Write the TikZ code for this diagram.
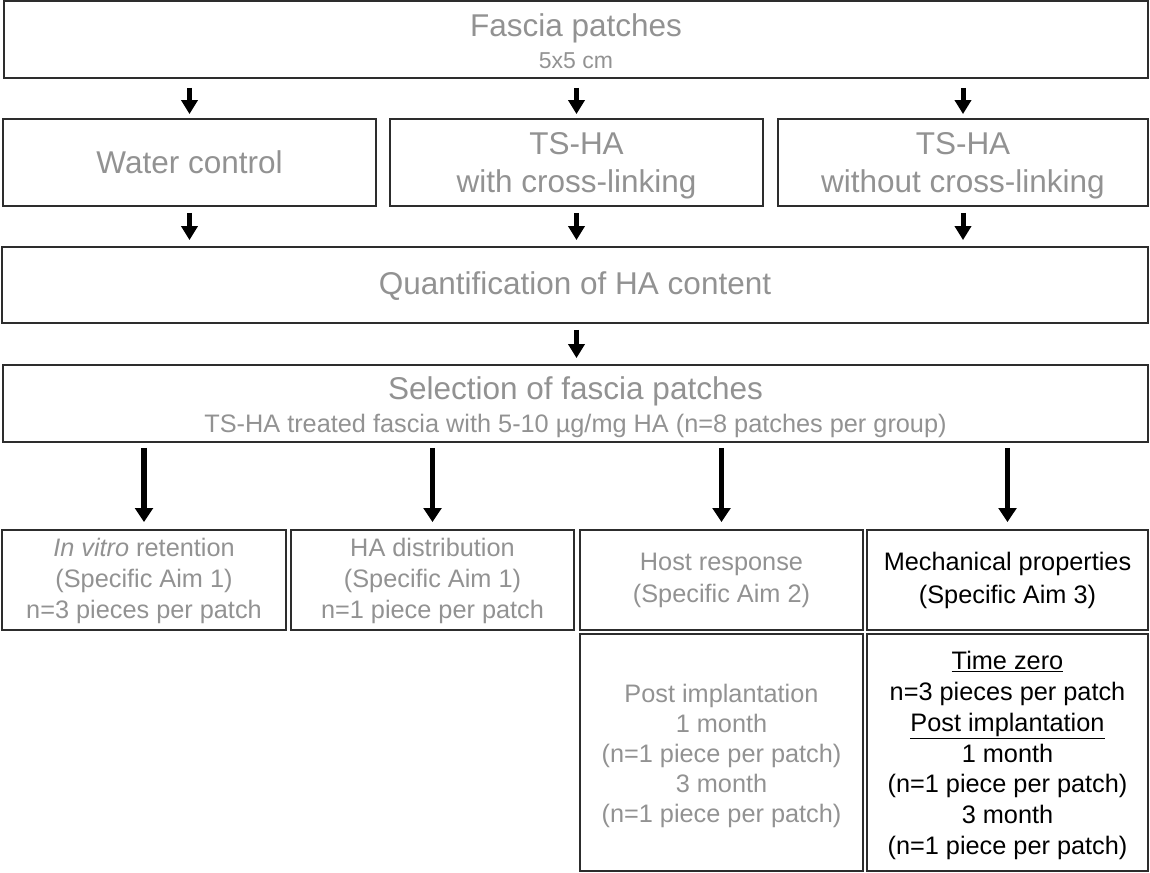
\documentclass[tikz,border=0pt]{standalone}
\usepackage{fontspec}
\setmainfont{Liberation Sans}
\usetikzlibrary{arrows.meta}
\definecolor{txtgray}{RGB}{146,146,146}
\definecolor{bordercol}{RGB}{45,45,45}
\newcommand\fbig{\fontsize{31.5bp}{38bp}\selectfont}
\newcommand\fsm{\fontsize{25.3bp}{31bp}\selectfont}
\tikzset{
  box/.style={draw=bordercol, line width=1.8bp, inner sep=0pt},
  txt/.style={text=txtgray, align=center, inner sep=0pt},
  sarrow/.style={line width=5bp, -{Triangle[width=16bp,length=14bp]}},
  larrow/.style={line width=5.5bp, -{Triangle[width=17.5bp,length=14bp]}},
}
\begin{document}
\begin{tikzpicture}[x=1bp,y=-1bp]
\useasboundingbox (0,0) rectangle (1150,873);
% boxes
\node[box, minimum width=1144bp, minimum height=77bp] (top) at (576,39.5) {};
\node[box, minimum width=373bp, minimum height=87bp] (water) at (189.5,162.5) {};
\node[box, minimum width=373bp, minimum height=87bp] (with) at (576.5,162.5) {};
\node[box, minimum width=370bp, minimum height=87bp] (without) at (963,162.5) {};
\node[box, minimum width=1146bp, minimum height=76bp] (quant) at (575,285) {};
\node[box, minimum width=1145bp, minimum height=77bp] (sel) at (575.5,403.5) {};
\node[box, minimum width=284bp, minimum height=100bp] (b1) at (144,580) {};
\node[box, minimum width=283bp, minimum height=100bp] (b2) at (432.5,580) {};
\node[box, minimum width=283bp, minimum height=100bp] (b3) at (721.5,580) {};
\node[box, minimum width=281bp, minimum height=100bp] (b4) at (1007.5,580) {};
\node[box, minimum width=283bp, minimum height=237bp] (b3L) at (721.5,752.5) {};
\node[box, minimum width=281bp, minimum height=237bp] (b4L) at (1007.5,752.5) {};
% texts
\node[txt, font=\fontsize{23bp}{32bp}\selectfont, yshift=-1.2bp] (toptxt) at (top) {{\fbig Fascia patches}\\5x5 cm};
\node[txt, font=\fbig] (watertxt) at (water) {Water control};
\node[txt, font=\fbig, yshift=-3bp] (withtxt) at (with) {TS-HA\\with cross-linking};
\node[txt, font=\fbig, yshift=-3bp] (withouttxt) at (without) {TS-HA\\without cross-linking};
\node[txt, font=\fbig, yshift=-1.5bp] (quanttxt) at (quant) {Quantification of HA content};
\node[txt, font=\fontsize{25.3bp}{33bp}\selectfont, yshift=-3.5bp] (seltxt) at (sel) {{\fbig Selection of fascia patches}\\TS-HA treated fascia with 5-10 µg/mg HA (n=8 patches per group)};
\node[txt, font=\fsm, yshift=-1bp] (b1txt) at (b1) {\textit{In vitro} retention\\(Specific Aim 1)\\n=3 pieces per patch};
\node[txt, font=\fsm, yshift=-1bp] (b2txt) at (b2) {HA distribution\\(Specific Aim 1)\\n=1 piece per patch};
\node[txt, font=\fontsize{25.3bp}{32bp}\selectfont] (b3txt) at (b3) {Host response\\(Specific Aim 2)};
\node[txt, text=black, font=\fontsize{25.3bp}{33bp}\selectfont] (b4txt) at (b4) {Mechanical properties\\(Specific Aim 3)};
\node[txt, font=\fontsize{25.3bp}{30bp}\selectfont, yshift=-3bp] (b3Ltxt) at (b3L) {Post implantation\\1 month\\(n=1 piece per patch)\\3 month\\(n=1 piece per patch)};
\node[txt, text=black, font=\fontsize{25.3bp}{30.7bp}\selectfont, yshift=-3bp] (b4Ltxt) at (b4L) {\underline{Time zero}\\n=3 pieces per patch\\\underline{Post implantation}\\1 month\\(n=1 piece per patch)\\3 month\\(n=1 piece per patch)};
% arrows
\draw[sarrow, shorten <=9bp, shorten >=4bp] (top.south -| water.north) -- (water.north);
\draw[sarrow, shorten <=9bp, shorten >=4bp] (top.south -| with.north) -- (with.north);
\draw[sarrow, shorten <=9bp, shorten >=4bp] (top.south -| without.north) -- (without.north);
\draw[sarrow, shorten <=6bp, shorten >=6bp] (water.south) -- (quant.north -| water.south);
\draw[sarrow, shorten <=6bp, shorten >=6bp] (with.south) -- (quant.north -| with.south);
\draw[sarrow, shorten <=6bp, shorten >=6bp] (without.south) -- (quant.north -| without.south);
\draw[sarrow, shorten <=6bp, shorten >=6bp] (quant.south -| with.south) -- (sel.north -| with.south);
\draw[larrow, shorten <=5bp, shorten >=7bp] (sel.south -| b1.north) -- (b1.north);
\draw[larrow, shorten <=5bp, shorten >=7bp] (sel.south -| b2.north) -- (b2.north);
\draw[larrow, shorten <=5bp, shorten >=7bp] (sel.south -| b3.north) -- (b3.north);
\draw[larrow, shorten <=5bp, shorten >=7bp] (sel.south -| b4.north) -- (b4.north);
\end{tikzpicture}
\end{document}
